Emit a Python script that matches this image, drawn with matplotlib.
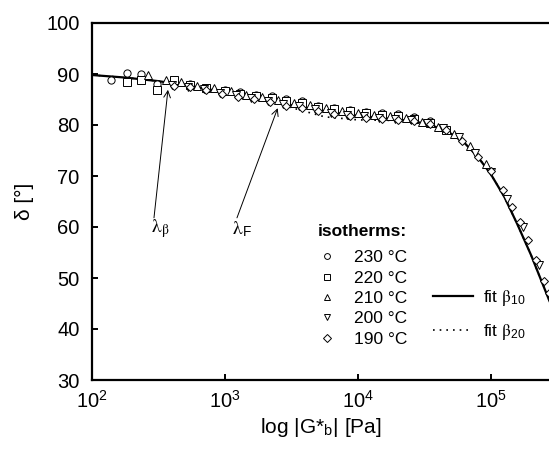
#!/usr/bin/env python3
"""Phase angle vs. |G*_b| master curve with fit lines and isotherm markers."""

import matplotlib

matplotlib.use("Agg")
import matplotlib.pyplot as plt
from matplotlib.lines import Line2D

plt.rcParams["font.family"] = ["Liberation Sans", "DejaVu Sans"]
plt.rcParams["mathtext.fontset"] = "stix"

# isotherms: |G*_b| in Pa and phase angle in degrees
g_230 = [138, 182, 234, 309, 417, 550, 724, 1000, 1290, 1700, 2240, 2880, 3800,
         5010, 6610, 8710, 11500, 15100, 20000, 26300, 34700]
d_230 = [88.9, 90.2, 90.0, 88.0, 88.3, 88.0, 87.3, 86.9, 86.4, 85.9, 85.6, 85.1, 84.8,
         83.8, 83.3, 82.9, 82.6, 82.3, 82.1, 81.5, 80.8]

g_220 = [182, 234, 309, 417, 550, 724, 1000, 1290, 1700, 2240, 2880, 3800, 5010,
         6610, 8710, 11500, 15100, 20000, 26300, 34700, 45700]
d_220 = [88.4, 88.9, 86.9, 88.9, 87.9, 87.2, 86.6, 86.1, 85.6, 85.2, 84.7, 84.3, 83.6,
         83.1, 82.7, 82.3, 82.0, 81.7, 81.2, 80.4, 79.0]

g_210 = [263, 363, 468, 617, 832, 1100, 1450, 1910, 2510, 3310, 4370, 5750, 7590,
         10000, 13200, 17400, 22900, 30200, 39800, 52500, 69200, 91200]
d_210 = [89.9, 88.9, 88.4, 87.6, 87.2, 86.6, 85.8, 85.4, 84.9, 84.4, 83.9, 83.4, 82.8,
         82.3, 82.0, 81.7, 81.3, 80.6, 79.7, 78.2, 75.9, 72.4]

g_200 = [398, 525, 692, 912, 1200, 1580, 2090, 2750, 3630, 4790, 6310, 8320, 11000,
         14500, 19100, 25100, 33100, 43700, 57500, 75900, 100000, 132000, 174000, 229000]
d_200 = [87.9, 87.5, 87.0, 86.2, 85.9, 85.2, 84.8, 84.2, 83.7, 83.1, 82.3, 81.9, 81.7,
         81.4, 81.2, 80.9, 80.4, 79.4, 77.6, 74.6, 70.8, 65.4, 60.0, 52.6]

g_190 = [417, 550, 724, 955, 1260, 1660, 2190, 2880, 3800, 5010, 6610, 8710, 11500,
         15100, 20000, 26300, 34700, 45700, 60300, 79400, 100000, 123000, 145000,
         166000, 191000, 219000, 251000, 275000]
d_190 = [87.7, 87.4, 86.8, 86.0, 85.5, 85.0, 84.5, 83.8, 83.3, 82.8, 82.2, 81.7, 81.4,
         81.1, 80.9, 80.7, 80.2, 79.0, 76.9, 73.8, 70.9, 67.3, 64.0, 61.0, 57.5, 53.5,
         49.5, 47.0]

# fit curves
g_fit = [100, 178, 316, 562, 1000, 1780, 3160, 5620, 10000, 17800, 25100, 31600,
         39800, 50100, 63100, 79400, 100000, 126000, 158000, 200000, 275000]
d_fit10 = [89.8, 89.3, 88.6, 87.6, 86.4, 85.1, 83.9, 82.7, 81.8, 81.2, 80.8, 80.3,
           79.5, 78.3, 76.5, 73.8, 70.3, 65.9, 60.5, 54.5, 45.5]
d_fit20 = [89.8, 89.3, 88.6, 87.6, 86.4, 85.0, 83.4, 81.6, 81.0, 80.9, 80.6, 80.2,
           79.5, 78.3, 76.5, 73.8, 70.3, 65.9, 60.5, 54.5, 45.5]

iso_labels = ["230 °C", "220 °C", "210 °C", "200 °C", "190 °C"]
iso_markers = ["o", "s", "^", "v", "D"]
x_ticks = [1e2, 1e3, 1e4, 1e5]
y_ticks = [30, 40, 50, 60, 70, 80, 90, 100]


def main() -> None:
    fig = plt.figure(figsize=(5.49, 4.51), dpi=100)
    ax = fig.add_axes([92 / 549, 71 / 451, 457 / 549, 357 / 451])

    ax.plot(g_fit, d_fit20, color="black", lw=1.2, ls=(0, (1, 3)), zorder=2)
    ax.plot(g_fit, d_fit10, color="black", lw=1.6, zorder=3)

    series = [(g_230, d_230), (g_220, d_220), (g_210, d_210), (g_200, d_200), (g_190, d_190)]
    for (gx, dy), mk in zip(series, iso_markers):
        ms = 4.4 if mk == "D" else 5.2
        ax.plot(gx, dy, ls="none", marker=mk, ms=ms, mfc="white", mec="black",
                mew=0.7, zorder=4)

    ax.set_xscale("log")
    ax.set_xlim(1e2, 10 ** 5.436)
    ax.set_ylim(30, 100)
    ax.set_xticks(x_ticks)
    ax.xaxis.set_minor_locator(matplotlib.ticker.NullLocator())
    ax.set_yticks(y_ticks)
    ax.tick_params(direction="in", length=4, width=1.4, labelsize=14.5)
    ax.tick_params(axis="y", pad=9)
    ax.tick_params(axis="x", pad=7)
    for side in ("left", "bottom", "top"):
        ax.spines[side].set_linewidth(1.6)
    ax.spines["right"].set_visible(False)

    ax.set_xlabel(r"log |G*$_\mathregular{b}$| [Pa]", fontsize=15, labelpad=3)
    ax.set_ylabel("δ [°]", fontsize=15, labelpad=9)

    # relaxation time markers
    arrow = dict(arrowstyle="->", lw=0.7, color="black", shrinkA=0, shrinkB=0,
                 mutation_scale=12)
    ax.annotate("", xy=(10 ** 2.571, 86.9), xytext=(10 ** 2.466, 61.8), arrowprops=arrow)
    ax.annotate("", xy=(10 ** 3.396, 83.3), xytext=(10 ** 3.09, 61.8), arrowprops=arrow)
    ax.text(10 ** 2.51, 59.6, r"$\mathrm{\lambda_\beta}$", fontsize=14, ha="center", va="center")
    ax.text(10 ** 3.13, 59.6, r"$\mathrm{\lambda}_\mathregular{F}$", fontsize=14,
            ha="center", va="center")

    iso_handles = [Line2D([], [], ls="none", marker=m, ms=3.6 if m == "D" else 4.2,
                          mfc="white", mec="black", mew=0.7) for m in iso_markers]
    leg1 = ax.legend(iso_handles, iso_labels, title="isotherms:", loc="upper left",
                     bbox_to_anchor=(318 / 549, 1 - 224 / 451),
                     bbox_transform=fig.transFigure, frameon=False, fontsize=12.5,
                     title_fontproperties={"weight": "bold", "size": 12.5},
                     alignment="left", handlelength=1.0, handletextpad=1.05,
                     labelspacing=0.3, borderpad=0, borderaxespad=0)
    leg1._legend_box.sep = 8
    ax.add_artist(leg1)

    fit_handles = [Line2D([], [], color="black", lw=1.6),
                   Line2D([], [], color="black", lw=1.2, ls=(0, (1, 3)))]
    fit_labels = [r"fit $\mathrm{\beta}_{\mathregular{10}}$",
                  r"fit $\mathrm{\beta}_{\mathregular{20}}$"]
    ax.legend(fit_handles, fit_labels, loc="upper left",
              bbox_to_anchor=(433 / 549, 1 - 288 / 451),
              bbox_transform=fig.transFigure, frameon=False, fontsize=12.5,
              handlelength=2.3, handletextpad=0.6, labelspacing=0.8,
              borderpad=0, borderaxespad=0)

    fig.savefig("out.png", dpi=100, facecolor="white")


if __name__ == "__main__":
    main()
